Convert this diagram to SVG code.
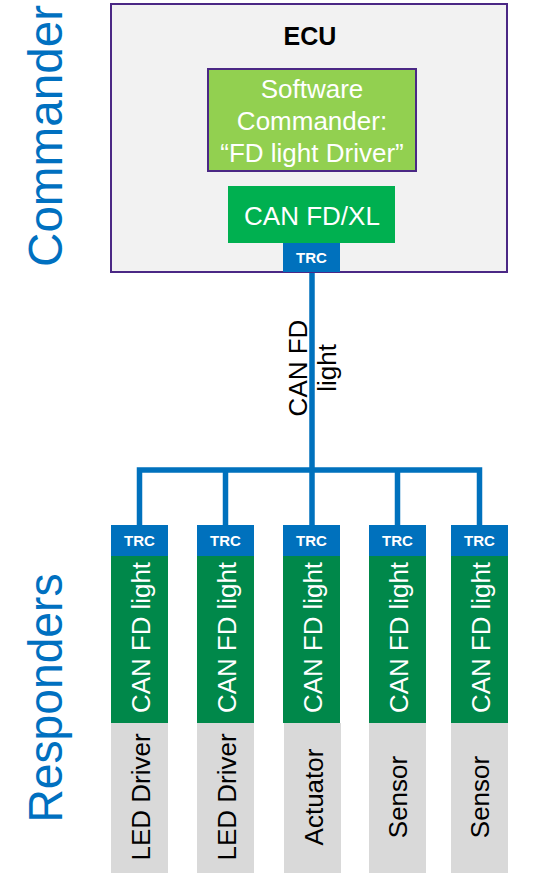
<svg xmlns="http://www.w3.org/2000/svg" width="542" height="873" viewBox="0 0 542 873">
  <style>
    text { font-family: "Liberation Sans", Arial, sans-serif; }
    .side { fill: #0070C0; font-size: 48px; text-anchor: middle; }
    .ecu { fill: #F2F2F2; stroke: #4B2885; stroke-width: 2; }
    .sw { fill: #92D050; stroke: #4B2885; stroke-width: 2; }
    .ctl { fill: #00B050; }
    .trc { fill: #0071BD; }
    .trct { fill: #FFFFFF; font-size: 15px; font-weight: bold; text-anchor: middle; }
    .can { fill: #00884A; }
    .dev { fill: #D9D9D9; }
    .wt { fill: #FFFFFF; font-size: 26px; text-anchor: middle; }
    .bt { fill: #000000; font-size: 26px; text-anchor: middle; }
    .bus { fill: none; stroke: #0071BD; stroke-width: 5.5; stroke-linejoin: miter; }
  </style>

  <!-- role labels -->
  <text class="side" transform="translate(62,136) rotate(-90)" textLength="262" lengthAdjust="spacingAndGlyphs">Commander</text>
  <text class="side" transform="translate(62,698) rotate(-90)" textLength="249" lengthAdjust="spacingAndGlyphs">Responders</text>

  <!-- bus wiring -->
  <g id="connectors">
    <path class="bus" d="M312 272 V525"/>
    <path class="bus" d="M139.5 525 V470 H479.5 V525"/>
    <path class="bus" d="M225.5 470 V525"/>
    <path class="bus" d="M397.5 470 V525"/>
    <text class="bt" transform="translate(307,368) rotate(-90)">CAN FD</text>
    <text class="bt" transform="translate(336,368) rotate(-90)">light</text>
  </g>

  <!-- commander ECU -->
  <g id="ecu">
    <rect class="ecu" x="111" y="4" width="396" height="268"/>
    <text x="310" y="45" font-size="25" font-weight="bold" text-anchor="middle" fill="#000">ECU</text>
  </g>
  <g id="software-commander">
    <rect class="sw" x="208" y="69" width="208" height="102"/>
    <text class="wt" x="312" y="98">Software</text>
    <text class="wt" x="312" y="130">Commander:</text>
    <text class="wt" x="312" y="162">“FD light Driver”</text>
  </g>
  <g id="can-fd-xl">
    <rect class="ctl" x="228" y="186" width="167" height="57"/>
    <text class="wt" x="312" y="225">CAN FD/XL</text>
  </g>
  <g id="trc-ecu">
    <rect class="trc" x="283" y="243" width="57" height="29"/>
    <text class="trct" x="311.5" y="263">TRC</text>
  </g>

  <!-- responders -->
  <g id="resp-1">
    <rect class="trc" x="111" y="525" width="57" height="31"/>
    <text class="trct" x="139.5" y="546">TRC</text>
    <rect class="can" x="111" y="556" width="57" height="167"/>
    <text class="wt" transform="translate(150,637.5) rotate(-90)" font-size="27" textLength="151" lengthAdjust="spacingAndGlyphs">CAN FD light</text>
    <rect class="dev" x="111" y="723" width="57" height="150"/>
    <text class="bt" transform="translate(150,797) rotate(-90)">LED Driver</text>
  </g>
  <g id="resp-2">
    <rect class="trc" x="197" y="525" width="57" height="31"/>
    <text class="trct" x="225.5" y="546">TRC</text>
    <rect class="can" x="197" y="556" width="57" height="167"/>
    <text class="wt" transform="translate(236,637.5) rotate(-90)" font-size="27" textLength="151" lengthAdjust="spacingAndGlyphs">CAN FD light</text>
    <rect class="dev" x="197" y="723" width="57" height="150"/>
    <text class="bt" transform="translate(236,797) rotate(-90)">LED Driver</text>
  </g>
  <g id="resp-3">
    <rect class="trc" x="283" y="525" width="57" height="31"/>
    <text class="trct" x="311.5" y="546">TRC</text>
    <rect class="can" x="283" y="556" width="57" height="167"/>
    <text class="wt" transform="translate(322,637.5) rotate(-90)" font-size="27" textLength="151" lengthAdjust="spacingAndGlyphs">CAN FD light</text>
    <rect class="dev" x="284" y="723" width="57" height="150"/>
    <text class="bt" transform="translate(323,797) rotate(-90)">Actuator</text>
  </g>
  <g id="resp-4">
    <rect class="trc" x="369" y="525" width="57" height="31"/>
    <text class="trct" x="397.5" y="546">TRC</text>
    <rect class="can" x="369" y="556" width="57" height="167"/>
    <text class="wt" transform="translate(408,637.5) rotate(-90)" font-size="27" textLength="151" lengthAdjust="spacingAndGlyphs">CAN FD light</text>
    <rect class="dev" x="369" y="723" width="57" height="150"/>
    <text class="bt" transform="translate(407,797) rotate(-90)">Sensor</text>
  </g>
  <g id="resp-5">
    <rect class="trc" x="451" y="525" width="57" height="31"/>
    <text class="trct" x="479.5" y="546">TRC</text>
    <rect class="can" x="451" y="556" width="57" height="167"/>
    <text class="wt" transform="translate(490,637.5) rotate(-90)" font-size="27" textLength="151" lengthAdjust="spacingAndGlyphs">CAN FD light</text>
    <rect class="dev" x="451" y="723" width="57" height="150"/>
    <text class="bt" transform="translate(489,797) rotate(-90)">Sensor</text>
  </g>
</svg>
